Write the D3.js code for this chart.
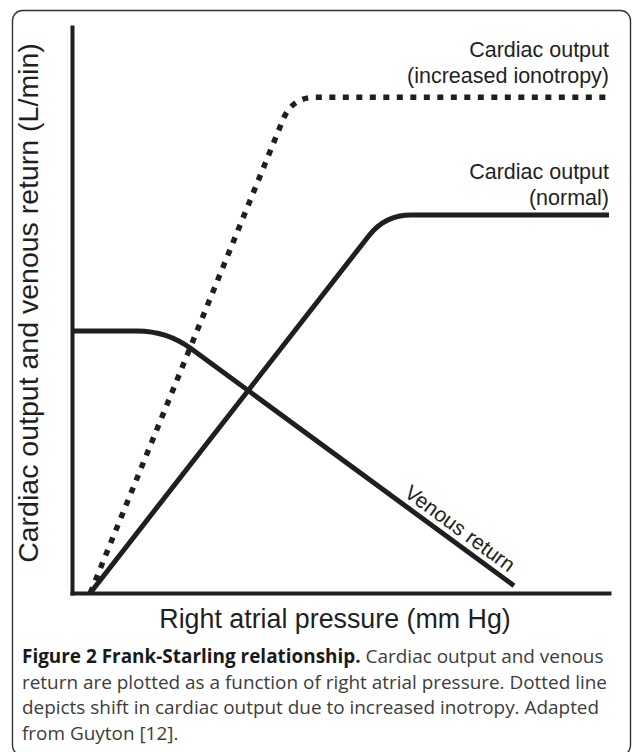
<!DOCTYPE html>
<html><head><meta charset="utf-8">
<script src="https://cdn.jsdelivr.net/npm/d3@7"></script>
<style>body{margin:0;background:#fff}svg{display:block}</style>
</head><body><svg id="c" width="633" height="752"></svg>
<script>
// ---- data (arbitrary units) ----
const pressureDomain = [0, 100];
const outputDomain = [0, 100];
const normalCO = [{p: 3.4, v: 0}, {p: 58.3, v: 66.8}, {p: 100, v: 66.8}];
const inotropyCO = [{p: 3.4, v: 0}, {p: 41.0, v: 87.6}, {p: 100, v: 87.6}];
const venousReturn = [{p: 0, v: 46.3}, {p: 17.7, v: 46.3}, {p: 82.3, v: 1.3}];
const normalLabel = ["Cardiac output", "(normal)"];
const inotropyLabel = ["Cardiac output", "(increased ionotropy)"];
const venousLabel = "Venous return";
const xTitle = "Right atrial pressure (mm Hg)";
const yTitle = "Cardiac output and venous return (L/min)";
const captionBold = "Figure 2 Frank-Starling relationship.";
const captionLines = [
  " Cardiac output and venous",
  "return are plotted as a function of right atrial pressure. Dotted line",
  "depicts shift in cardiac output due to increased inotropy. Adapted",
  "from Guyton [12]."
];

const ink = "#1f1f1f";
const svg = d3.select("#c");
const x = d3.scaleLinear().domain(pressureDomain).range([72, 609]);
const y = d3.scaleLinear().domain(outputDomain).range([593, 27]);

// frame
svg.append("rect").attr("x", 12.5).attr("y", 10.5).attr("width", 618).attr("height", 745)
  .attr("rx", 10).attr("fill", "none").attr("stroke", "#333").attr("stroke-width", 1.4);

// axes
const gx = svg.append("g").attr("transform", `translate(0,${y(0)})`)
  .call(d3.axisBottom(x).tickValues([]).tickSizeOuter(0));
const gy = svg.append("g").attr("transform", `translate(${x(0)},0)`)
  .call(d3.axisLeft(y).tickValues([]).tickSizeOuter(0));
[gx, gy].forEach(g => g.select(".domain").attr("stroke", ink).attr("stroke-width", 4).attr("stroke-linecap", "square"));

// rounded-knee path built from scaled data
function kneePath(data, r) {
  const pts = data.map(d => [x(d.p), y(d.v)]);
  const path = d3.path();
  path.moveTo(pts[0][0], pts[0][1]);
  for (let i = 1; i < pts.length - 1; i++) {
    const [ax, ay] = pts[i - 1], [cx, cy] = pts[i], [ex, ey] = pts[i + 1];
    const la = Math.hypot(ax - cx, ay - cy), le = Math.hypot(ex - cx, ey - cy);
    const bx = cx + r * (ax - cx) / la, by = cy + r * (ay - cy) / la;
    const dx = cx + r * (ex - cx) / le, dy = cy + r * (ey - cy) / le;
    path.lineTo(bx, by);
    path.quadraticCurveTo(cx, cy, dx, dy);
  }
  const last = pts[pts.length - 1];
  path.lineTo(last[0], last[1]);
  return path.toString();
}

svg.append("path").attr("d", kneePath(venousReturn, 30)).attr("fill", "none")
  .attr("stroke", ink).attr("stroke-width", 5);
svg.append("path").attr("d", kneePath(normalCO, 26)).attr("fill", "none")
  .attr("stroke", ink).attr("stroke-width", 5);
svg.append("path").attr("d", kneePath(inotropyCO, 24)).attr("fill", "none")
  .attr("stroke", ink).attr("stroke-width", 5.5).attr("stroke-dasharray", "6 7.5");

// labels
const labelFont = "Liberation Sans, Arial, sans-serif";
function twoLine(lines, yBase) {
  const t = svg.append("text").attr("font-family", labelFont).attr("font-size", 21.5)
    .attr("fill", ink).attr("text-anchor", "end");
  lines.forEach((s, i) => t.append("tspan").attr("x", 609).attr("y", yBase + i * 26).text(s));
}
twoLine(inotropyLabel, 57);
twoLine(normalLabel, 179);

// venous label along the line
{
  const a = venousReturn[1], b = venousReturn[2];
  const ang = Math.atan2(y(b.v) - y(a.v), x(b.p) - x(a.p));
  const t = 0.82;
  const px = x(a.p) + t * (x(b.p) - x(a.p)), py = y(a.v) + t * (y(b.v) - y(a.v));
  const off = 7;
  const cx = px + off * Math.sin(ang), cy = py - off * Math.cos(ang);
  svg.append("text").attr("font-family", labelFont).attr("font-size", 21).attr("fill", ink)
    .attr("text-anchor", "middle")
    .attr("transform", `translate(${cx},${cy}) rotate(${ang * 180 / Math.PI})`)
    .text(venousLabel);
}

// axis titles
svg.append("text").attr("font-family", labelFont).attr("font-size", 26.8).attr("fill", ink)
  .attr("text-anchor", "middle").attr("x", 335).attr("y", 628).text(xTitle);
svg.append("text").attr("font-family", labelFont).attr("font-size", 28.5).attr("fill", ink)
  .attr("text-anchor", "middle").attr("transform", "translate(38,303) rotate(-90)").text(yTitle);

// caption
const capFont = "'Open Sans', 'Noto Sans', sans-serif";
const capSize = 19;
captionLines.forEach((s, i) => {
  const t = svg.append("text").attr("class", "cap").attr("font-family", capFont).attr("font-size", capSize)
    .attr("fill", "#3c3c3c").attr("x", 22).attr("y", 663 + i * 25.7);
  if (i === 0) t.append("tspan").attr("font-weight", "bold").attr("fill", "#1a1a1a").text(captionBold);
  t.append("tspan").text(s);
});
// horizontal compression so lines fit the original widths
const nodes = svg.selectAll("text.cap").nodes();
const k = 585 / nodes[1].getComputedTextLength();
nodes.forEach(n => {
  const w = n.getComputedTextLength();
  d3.select(n).attr("textLength", w * k).attr("lengthAdjust", "spacingAndGlyphs");
});
</script></body></html>
